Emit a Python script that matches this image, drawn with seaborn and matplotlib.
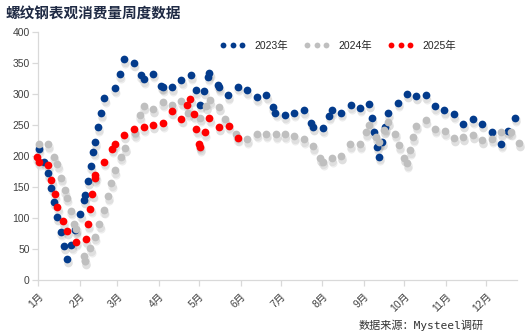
import matplotlib
matplotlib.use("Agg")
import matplotlib.pyplot as plt
import matplotlib.transforms as mtransforms
from matplotlib.lines import Line2D
import seaborn as sns
import pandas as pd

# ---------------- data (x = day of year position, y = 万吨) ----------------
days_2023 = [0.5, 4.5, 7.5, 10.0, 11.9, 14.2, 16.9, 19.4, 21.6, 24.9, 27.9, 31.6, 34.3, 35.3,
             37.3, 39.3, 41.3, 42.5, 44.7, 47.0, 49.5, 57.2, 60.9, 64.1, 71.4, 76.6, 78.8,
             85.8, 92.0, 92.8, 99.9, 106.9, 113.9, 117.4, 120.6, 123.8, 126.8, 127.8, 133.8,
             134.8, 141.7, 148.9, 155.6, 162.9, 170.3, 174.8, 177.0, 183.9, 190.9, 197.9,
             203.4, 205.1, 212.1, 216.8, 218.8, 225.7, 233.0, 239.9, 246.8, 248.6, 250.6,
             252.8, 254.1, 256.5, 258.5, 261.0, 268.5, 274.9, 281.9, 288.9, 295.7, 302.8,
             309.8, 316.9, 323.9, 330.9, 338.1, 345.0, 350.0, 355.7]
vals_2023 = [212, 191, 172, 149, 126, 102, 78, 55, 34, 56, 80, 106, 129, 137, 160, 184, 207,
             222, 246, 269, 293, 309, 332, 356, 350, 331, 324, 333, 313, 311, 311, 322, 330,
             306, 283, 305, 328, 334, 315, 311, 298, 312, 306, 295, 298, 279, 270, 266, 270,
             274, 254, 247, 245, 265, 274, 270, 282, 278, 284, 262, 239, 215, 199, 223, 246,
             269, 286, 300, 297, 298, 280, 274, 267, 252, 259, 252, 239, 220, 241, 262]

days_2024 = [0.5, 7.5, 11.7, 14.5, 17.4, 19.9, 21.4, 24.4, 26.8, 28.6, 34.3, 35.3, 39.1, 42.3,
             45.8, 49.0, 52.2, 54.7, 57.2, 61.7, 64.7, 72.1, 75.8, 78.8, 85.8, 92.8, 99.9,
             106.9, 111.9, 120.6, 125.1, 128.0, 134.8, 139.2, 147.9, 155.9, 162.9, 169.8,
             177.3, 183.9, 190.9, 197.9, 205.1, 210.3, 212.1, 218.8, 225.7, 232.8, 239.9,
             244.4, 246.8, 251.8, 254.3, 258.0, 261.0, 266.0, 269.2, 273.0, 275.0, 277.2,
             279.7, 281.9, 288.9, 296.0, 303.1, 310.1, 316.9, 324.2, 331.1, 338.3, 345.3,
             352.3, 358.7]
vals_2024 = [219, 219, 199, 187, 165, 145, 133, 112, 91, 83, 38, 31, 51, 70, 90, 113, 135,
             156, 177, 199, 213, 237, 266, 281, 276, 287, 282, 288, 270, 262, 281, 290, 279,
             260, 235, 227, 236, 236, 235, 235, 232, 227, 216, 197, 191, 196, 200, 219, 219,
             238, 250, 231, 222, 242, 255, 236, 217, 197, 188, 209, 230, 249, 258, 244, 240,
             229, 231, 234, 226, 228, 238, 239, 221]

days_2025 = [-1.0, 0.5, 7.5, 10.0, 12.5, 14.5, 18.6, 21.6, 28.6, 35.6, 37.3, 39.1, 40.6, 42.3,
             42.8, 49.2, 55.2, 57.2, 64.1, 71.6, 78.8, 85.8, 92.8, 99.5, 106.9, 111.4, 113.6,
             115.9, 118.1, 120.1, 120.6, 124.3, 127.8, 134.8, 142.0, 148.9]
vals_2025 = [198, 191, 185, 161, 138, 117, 95, 79, 62, 66, 90, 115, 139, 164, 169, 191, 212,
             220, 234, 243, 246, 250, 253, 273, 260, 282, 292, 267, 243, 219, 214, 238, 261,
             247, 249, 229]

series_names = ["2023年", "2024年", "2025年"]
series_colors = ["#033B8C", "#BFBFBF", "#FF0000"]

month_labels = ["1月", "2月", "3月", "4月", "5月", "6月", "7月", "8月", "9月", "10月", "11月", "12月"]
month_pos = [0, 31, 59, 90, 120, 151, 181, 212, 243, 273, 304, 334]
y_ticks = [0, 50, 100, 150, 200, 250, 300, 350, 400]

title_text = "螺纹钢表观消费量周度数据"
source_text = "数据来源：Mysteel调研"

# ---------------- style ----------------
sns.set_style("ticks")
plt.rcParams["font.family"] = ["Liberation Sans", "Noto Sans CJK SC", "DejaVu Sans"]

W, H = 525, 335
fig = plt.figure(figsize=(W / 100, H / 100), dpi=100)
ax = fig.add_axes([38 / W, 1 - 280 / H, (517 - 38) / W, (280 - 32) / H])

frames = [
    pd.DataFrame({"day": days_2023, "value": vals_2023}),
    pd.DataFrame({"day": days_2024, "value": vals_2024}),
    pd.DataFrame({"day": days_2025, "value": vals_2025}),
]

# soft drop shadows (two faint layers)
shadow_layers = [((0.5 / 72, -2.0 / 72), 44, 0.06), ((0.8 / 72, -3.2 / 72), 34, 0.07)]
for df in frames:
    for (dx, dy), size, alpha in shadow_layers:
        sns.scatterplot(data=df, x="day", y="value", ax=ax, color="#000000", alpha=alpha,
                        s=size, linewidth=0, legend=False, clip_on=False)
        coll = ax.collections[-1]
        coll.set_offset_transform(
            ax.transData + mtransforms.ScaledTranslation(dx, dy, fig.dpi_scale_trans))

for df, c in zip(frames, series_colors):
    sns.scatterplot(data=df, x="day", y="value", ax=ax, color=c, s=31, linewidth=0,
                    legend=False, clip_on=False, zorder=3)

ax.set_xlim(0, 357)
ax.set_ylim(0, 400)
ax.set_xticks(month_pos)
ax.set_xticklabels(month_labels, rotation=45, ha="right", va="top", rotation_mode="anchor")
ax.set_yticks(y_ticks)
ax.set_xlabel("")
ax.set_ylabel("")

for side in ["top", "right"]:
    ax.spines[side].set_visible(False)
for side in ["left", "bottom"]:
    ax.spines[side].set_color("#D9D9D9")
    ax.spines[side].set_linewidth(0.9)
ax.tick_params(axis="both", colors="#D9D9D9", length=4, width=0.9, labelsize=7.5,
               labelcolor="#404040", pad=2)
ax.tick_params(axis="x", pad=4)

# legend
handles = [Line2D([], [], ls="none", marker="o", color=c, markersize=4.2, markeredgewidth=0)
           for c in series_colors]
fig.legend(handles, series_names, loc="center left", bbox_to_anchor=(220 / W, 1 - 46 / H),
           ncol=3, frameon=False, fontsize=7.5, numpoints=3, handlelength=2.4,
           handletextpad=0.9, columnspacing=1.55, borderpad=0, borderaxespad=0)

fig.text(6 / W, 1 - 13 / H, title_text, fontsize=10.5, fontweight="bold", color="#1F2A44",
         ha="left", va="center", family=["Noto Sans CJK SC"])
fig.text(484 / W, 1 - 325 / H, source_text, fontsize=8, color="#333333",
         ha="right", va="center", family=["DejaVu Sans Mono", "Noto Sans CJK SC"])

fig.savefig("out.png", dpi=100)
